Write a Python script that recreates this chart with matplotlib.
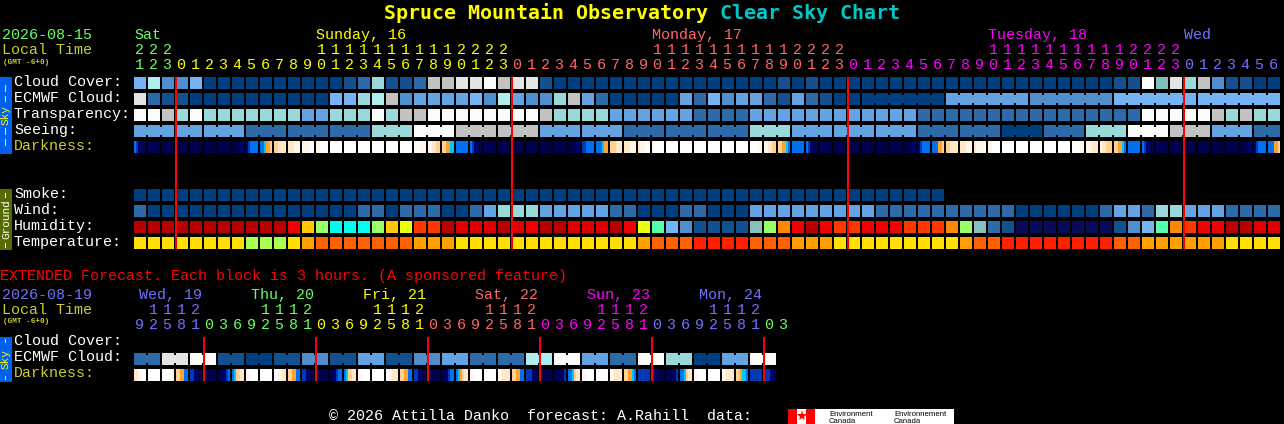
import matplotlib
matplotlib.use("Agg")
import matplotlib.pyplot as plt
from matplotlib.patches import Rectangle

MONO = "Liberation Mono"

# hour labels, one char per column
tens_main = ("222" + "          " + "1111111111" + "2222"
             + "          " + "1111111111" + "2222"
             + "          " + "1111111111" + "2222"
             + "       ")
units_main = ("123" + "012345678901234567890123"
              + "012345678901234567890123"
              + "012345678901234567890123"
              + "0123456")
tens_ext = " 1112    1112    1112    1112    1112    1112    "
units_ext = "92581036925810369258103692581036925810369258103"

# cloud style levels, index into cloud_colors
cloud_cover = [5, 7, 3, 3, 5, 0, 0, 0, 0, 0,
               0, 0, 0, 0, 0, 1, 2, 6, 1, 1,
               2, 8, 8, 9, 9, 10, 8, 9, 9, 1,
               0, 0, 0, 0, 0, 0, 0, 0, 0, 0,
               0, 0, 0, 0, 0, 0, 1, 0, 1, 0,
               0, 0, 0, 0, 0, 0, 0, 0, 0, 0,
               0, 0, 0, 0, 0, 0, 0, 0, 0, 0,
               1, 1, 10, 11, 9, 6, 8, 3, 1, 1,
               0, 0]
ecmwf_cloud = [9, 2, 1, 1, 0, 0, 0, 0, 0, 0,
               0, 0, 0, 0, 5, 5, 6, 7, 8, 3,
               4, 4, 4, 4, 5, 3, 7, 4, 3, 3,
               6, 8, 4, 2, 0, 0, 0, 0, 0, 4,
               2, 5, 3, 4, 4, 2, 1, 4, 2, 1,
               0, 0, 0, 0, 0, 0, 0, 0, 4, 4,
               4, 4, 4, 4, 3, 3, 3, 3, 3, 3,
               5, 5, 5, 5, 5, 5, 5, 5, 5, 5,
               5, 5]
ecmwf_blocks = [1] * 52 + [6, 6, 6, 6, 6]
transparency = [10, 10, 8, 6, 10, 6, 6, 6, 6, 6,
                6, 6, 4, 4, 6, 6, 6, 10, 6, 8,
                8, 10, 10, 10, 10, 10, 10, 10, 10, 8,
                6, 6, 6, 6, 4, 4, 4, 4, 4, 4,
                2, 2, 2, 2, 4, 4, 4, 4, 4, 4,
                4, 4, 4, 4, 4, 4, 2, 2, 2, 2,
                2, 2, 2, 2, 2, 2, 2, 2, 2, 2,
                2, 2, 10, 10, 10, 10, 10, 8, 6, 8,
                6, 6]
# seeing comes in blocks, one value per block
seeing = [4, 4, 4, 2, 2, 2, 6, 10, 8, 8, 4, 4, 2, 2, 2, 6, 4, 4, 4, 2, 2, 0, 2, 6, 10, 8, 4, 2]
seeing_blocks = [3, 2, 3, 3, 3, 3, 3, 3, 3, 3, 3, 3, 3, 3, 3, 3, 3, 3, 3, 3, 3, 3, 3, 3, 3, 3, 3, 2]
smoke = [0, 0, 0, 0, 0, 0, 0, 0, 0, 0,
         0, 0, 0, 0, 0, 0, 0, 0, 0, 0,
         0, 0, 0, 0, 0, 0, 0, 0, 0, 0,
         0, 0, 0, 0, 0, 0, 0, 0, 0, 0,
         0, 0, 0, 0, 0, 0, 0, 0, 0, 0,
         0, 0, 0, 0, 0, 0, 0, 0]
wind = [2, 0, 0, 0, 0, 0, 0, 0, 0, 0,
        0, 0, 0, 0, 0, 0, 2, 2, 0, 2,
        2, 2, 0, 0, 2, 4, 6, 6, 6, 4,
        4, 4, 4, 4, 2, 2, 0, 0, 0, 2,
        2, 0, 0, 0, 4, 4, 4, 4, 4, 4,
        4, 4, 4, 2, 2, 2, 2, 2, 2, 2,
        2, 2, 2, 0, 0, 0, 0, 0, 0, 2,
        4, 4, 2, 6, 6, 4, 4, 4, 2, 2,
        2, 2]
humidity = ("aaaaaaaaaa" "acfhjjjhfg" "ddabbbabca" "abbbacgisp"
            "nnnnkhecac" "ddcccdddeh" "kmnvvvvvvv" "npsiedccaa" "bb")
temperature = ("yyyyyyyygg" "gyorrrrrrr" "oooyyyyyyy" "yyyyyyorrr"
               "RRRRrrrooo" "yyyyyyyyyo" "rrRRRRRRRR" "rroooooo" "yy" "yy")

# darkness: six samples across each column, index into dark_colors
darkness = ["321100", "100000", "000000", "000000", "000000", "000000", "000000", "000011",
            "123333", "334556", "667777", "777888", "888899", "889999", "999999", "999999",
            "999999", "999999", "999999", "999999", "999888", "887766", "665544", "333333",
            "321100", "100000", "000000", "000000", "000000", "000000", "000000", "000011",
            "223333", "333455", "666777", "777888", "788899", "899999", "999999", "999999",
            "999999", "999999", "999999", "999999", "999988", "887766", "665543", "333333",
            "321000", "100000", "000000", "000000", "000000", "000000", "000000", "000011",
            "123333", "333556", "667777", "777888", "788889", "889999", "999999", "999999",
            "999999", "999999", "999999", "999988", "888777", "877666", "665543", "333333",
            "321100", "100000", "000000", "000000", "000000", "000000", "000000", "000011",
            "123333", "333556"]

ext_ecmwf = [2, 9, 10, 1, 0, 1, 3, 1, 4, 1, 3, 4, 2, 2, 7, 10, 4, 2, 10, 6, 0, 4, 10]
ext_darkness = ["778899", "999999", "999988", "665533", "221100", "000000", "000123", "346677",
                "889999", "999999", "998877", "665533", "221100", "000000", "001233", "346677",
                "889999", "999999", "988777", "665533", "221100", "000000", "001233", "345677",
                "889999", "999999", "987777", "665533", "222110", "000000", "000012", "334677",
                "889999", "999999", "987777", "665543", "222222", "211000", "000012", "334677",
                "889999", "999999", "987777", "665443", "222222", "222110"]

cloud_colors = ["#003f7f", "#13508f", "#2c6aaa", "#4f8fcf", "#63a3e3", "#74b4f4",
                "#99d9d9", "#aeeeee", "#c2c2c2", "#e4e4e4", "#fbfbfb", "#80bebe"]
dark_colors = ["#00004e", "#000070", "#0038b8", "#0070f0", "#00c8f0",
               "#ffa030", "#ffd090", "#ffe8c8", "#fff6ea", "#ffffff"]
hum_colors = {"a": "#b80000", "b": "#e00000", "c": "#f00000", "d": "#ff3800", "e": "#ff8800",
              "f": "#ffc800", "g": "#e8ff10", "h": "#99ff66", "i": "#55ffaa", "j": "#00ffee",
              "k": "#88c0c0", "s": "#74b4f4", "p": "#4f8fcf", "n": "#135090", "m": "#2c6aaa",
              "v": "#0a0a5a"}
temp_colors = {"y": "#ffe000", "o": "#ffa000", "r": "#ff6000", "R": "#ff2000", "g": "#aaff55"}

GREEN = "#66ff66"
YELLOW = "#ffff00"
SALMON = "#ff6666"
MAGENTA = "#ff00ff"
BLUE = "#7070ff"
OLIVE = "#cccc33"
RED = "#ff0000"

X0 = 134
PITCH = 14
CELL = 12

fig = plt.figure(figsize=(12.84, 4.24), dpi=100, facecolor="black")
ax = fig.add_axes([0, 0, 1, 1])
ax.set_xlim(0, 1284)
ax.set_ylim(424, 0)
ax.axis("off")


def rect(x, y, w, h, color, zorder=2):
    # coordinates are whole pixels, so switch snapping off to keep the exact size
    ax.add_patch(Rectangle((x, y), w, h, facecolor=color, edgecolor="none",
                           snap=False, zorder=zorder))


def txt(x, y, s, color="white", size=10.8, **kw):
    # y is the reference baseline, the font sits a pixel low
    ax.text(x, y - 1, s, color=color, fontsize=size, family=MONO, va="baseline", **kw)


def draw_row(y, colors, blocks=None):
    if blocks is None:
        blocks = [1] * len(colors)
    c = 0
    for n in blocks:
        for i in range(n):
            rect(X0 + PITCH * (c + i), y, CELL, CELL, colors[c + i])
            if i < n - 1:
                # blocks joined by a narrower neck
                rect(X0 + PITCH * (c + i) + CELL, y + 2, PITCH - CELL, CELL - 4, colors[c + i])
        c += n


def draw_dark_row(y, samples):
    for c, cell in enumerate(samples):
        w = CELL // len(cell)
        for i, k in enumerate(cell):
            rect(X0 + PITCH * c + w * i, y, w, CELL, dark_colors[int(k)])


def expand(values, blocks):
    out = []
    for v, n in zip(values, blocks):
        out += [v] * n
    return out


def side_bar(top, bottom, color, text, text_color, y_text, dashes):
    rect(0, top, 12, bottom - top, color)
    ax.text(6, y_text, text, color=text_color, fontsize=8, family=MONO, rotation=90,
            ha="center", va="center", zorder=3)
    for y0, y1 in dashes:
        rect(5, y0, 1, y1 - y0, text_color, zorder=3)


# title
ax.text(384, 19, "Spruce Mountain Observatory", color=YELLOW, fontsize=14.4,
        family="DejaVu Sans Mono", fontweight="bold", va="baseline")
ax.text(720, 19, "Clear Sky Chart", color="#00c8c8", fontsize=14.4,
        family="DejaVu Sans Mono", fontweight="bold", va="baseline")

# main header
txt(2, 40, "2026-08-15", GREEN)
txt(2, 55, "Local Time", OLIVE)
txt(3, 65, "(GMT -6+0)", OLIVE, size=5.6, fontweight="bold")
for col, name, color in [(0, "Sat", GREEN), (13, "Sunday, 16", YELLOW), (37, "Monday, 17", SALMON),
                         (61, "Tuesday, 18", MAGENTA), (75, "Wed", BLUE)]:
    txt(X0 + PITCH * col, 40, name, color)


def hour_color(c):
    if c < 3:
        return GREEN
    if c < 27:
        return YELLOW
    if c < 51:
        return SALMON
    if c < 75:
        return MAGENTA
    return BLUE


for c, (t, u) in enumerate(zip(tens_main, units_main)):
    xc = X0 + PITCH * c + CELL / 2 - 1
    if t != " ":
        txt(xc, 55, t, hour_color(c), ha="center")
    txt(xc, 70, u, hour_color(c), ha="center")

# main rows
sky_rows = [(77, "Cloud Cover:", "white"), (93, "ECMWF Cloud:", "white"), (109, "Transparency:", "white"),
            (125, "Seeing:", "white"), (141, "Darkness:", OLIVE),
            (189, "Smoke:", "white"), (205, "Wind:", "white"), (221, "Humidity:", "white"),
            (237, "Temperature:", "white")]
for y, name, color in sky_rows:
    txt(14, y + 10, name, color)

draw_row(77, [cloud_colors[v] for v in cloud_cover])
draw_row(93, [cloud_colors[v] for v in ecmwf_cloud], ecmwf_blocks)
draw_row(109, [cloud_colors[v] for v in transparency])
draw_row(125, [cloud_colors[v] for v in expand(seeing, seeing_blocks)], seeing_blocks)
draw_dark_row(141, darkness)
draw_row(189, [cloud_colors[v] for v in smoke])
draw_row(205, [cloud_colors[v] for v in wind])
draw_row(221, [hum_colors[v] for v in humidity])
draw_row(237, [temp_colors[v] for v in temperature])

# side bars
side_bar(77, 154, "#0060f0", "Sky", YELLOW, 115.5, [(85, 92), (96, 102), (128, 135), (139, 146)])
side_bar(189, 250, "#556b00", "Ground", "white", 219.5, [(193, 198), (243, 248)])

# midnight markers
for c in [3, 27, 51, 75]:
    rect(X0 + PITCH * c - 1, 77, 2, 172, RED, zorder=4)

# extended section
txt(0, 281, "EXTENDED Forecast. Each block is 3 hours. (A sponsored feature)", RED)
txt(2, 300, "2026-08-19", BLUE)
txt(2, 315, "Local Time", OLIVE)
txt(3, 324, "(GMT -6+0)", OLIVE, size=5.6, fontweight="bold")
ext_days = ["Wed, 19", "Thu, 20", "Fri, 21", "Sat, 22", "Sun, 23", "Mon, 24"]
ext_day_colors = [BLUE, GREEN, YELLOW, SALMON, MAGENTA, BLUE]
for i, (name, color) in enumerate(zip(ext_days, ext_day_colors)):
    txt(139 + 112 * i, 300, name, color)


def ext_color(c):
    if c < 5:
        return BLUE
    if c >= 45:
        return GREEN
    return ext_day_colors[1:][(c - 5) // 8]


for c, (t, u) in enumerate(zip(tens_ext, units_ext)):
    xc = X0 + PITCH * c + CELL / 2 - 1
    if t != " ":
        txt(xc, 315, t, ext_color(c), ha="center")
    txt(xc, 330, u, ext_color(c), ha="center")

txt(14, 346, "Cloud Cover:")
txt(14, 362, "ECMWF Cloud:")
txt(14, 378, "Darkness:", OLIVE)
draw_row(353, [cloud_colors[v] for v in expand(ext_ecmwf, [2] * len(ext_ecmwf))], [2] * len(ext_ecmwf))
draw_dark_row(369, ext_darkness)

side_bar(337, 382, "#0060f0", "Sky", YELLOW, 359, [(339, 343), (376, 380)])
for c in [5, 13, 21, 29, 37, 45]:
    rect(X0 + PITCH * c - 1, 337, 2, 44, RED, zorder=4)

# footer
txt(329, 421, "\u00a9 2026 Attilla Danko  forecast: A.Rahill  data:")
rect(788, 409, 166, 15, "white")
rect(788, 409, 9, 15, RED, zorder=3)
rect(806, 409, 9, 15, RED, zorder=3)
ax.plot([801.5], [416], marker="*", color=RED, markersize=8, markeredgewidth=0, zorder=3)
for x, name in [(829, "Environment"), (894, "Environnement")]:
    ax.text(x, 415.5, name, color="black", fontsize=5.6, family="Liberation Sans", va="baseline", zorder=3)
    ax.text(x, 423, "Canada", color="black", fontsize=5.6, family="Liberation Sans", va="baseline", zorder=3)

fig.savefig("out.png", dpi=100, facecolor="black")
